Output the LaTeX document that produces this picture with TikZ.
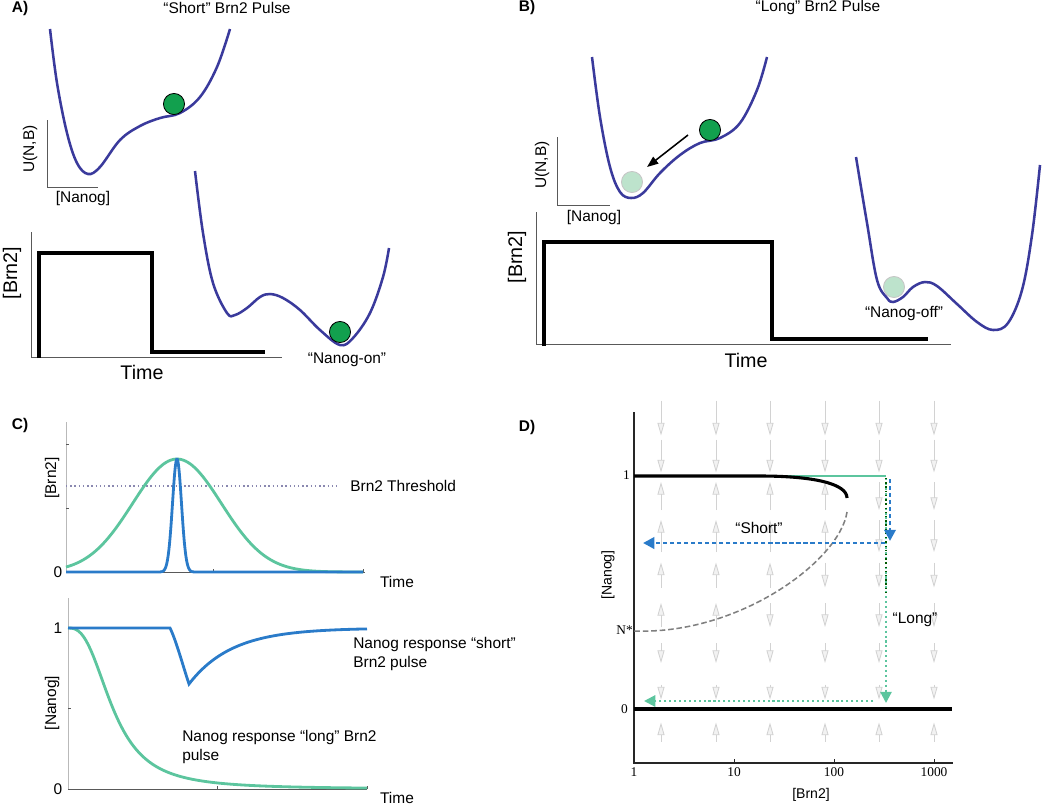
\documentclass[tikz,border=0pt]{standalone}
\usepackage{fontspec}
\setmainfont{Liberation Sans}
\newfontfamily\tickfont{Liberation Serif}
\usetikzlibrary{arrows.meta}
\definecolor{PotBlue}{HTML}{3A3A9C}
\definecolor{BallGreen}{HTML}{12A04E}
\definecolor{PaleBall}{HTML}{BDE3CC}
\definecolor{PulseGreen}{HTML}{5CC59E}
\definecolor{PulseBlue}{HTML}{2A7BC9}
\definecolor{ThreshGray}{HTML}{8A88B0}

\begin{document}
\begin{tikzpicture}[x=0.025cm, y=-0.025cm,
  txt/.style={font=\fontsize{11}{13.5}\selectfont, inner sep=0pt},
  bigtxt/.style={font=\fontsize{14}{16}\selectfont, inner sep=0pt},
  panel/.style={font=\fontsize{11}{13}\selectfont\bfseries, inner sep=0pt},
  ticklbl/.style={font=\tickfont\fontsize{9.5}{11}\selectfont, inner sep=0pt},
  pot/.style={PotBlue, line width=1.8pt},
  ball/.style={circle, draw=black, line width=0.6pt, fill=BallGreen, minimum size=15pt, inner sep=0pt},
  paleball/.style={ball, draw=gray!45, fill=PaleBall},
  pulse/.style={line width=2.5pt, line join=miter},
  axis/.style={gray!70!black, line width=0.6pt},
  field/.style={gray!35, line width=0.6pt, -{Triangle[length=9pt, width=5pt, fill=gray!10]}}]
  \useasboundingbox (0,0) rectangle (1050,805);

  % A) short pulse
  \node[panel] (labA) at (20,8) {A)};
  \node[txt] (titA) at (227,8) {“Short” Brn2 Pulse};
  \draw[pot] plot[smooth, tension=0.6] coordinates {(50,29) (57,83) (67,133) (77,163) (88,174) (100,167)
    (120,140) (140,126) (160,118) (180,113) (200,97) (217,67) (230,29)};
  \node[ball] (ballA) at (174,104) {};
  \draw[axis] (47,120) -- (47,187) -- (98,187);
  \node[txt, rotate=90] (potA) at (30,149) {U(N,B)};
  \node[txt] (nanA) at (83,198) {[Nanog]};
  \draw[axis] (31,232) -- (31,357) -- (282,357);
  \draw[pulse] (39,358) -- (39,253) -- (152,253) -- (152,352) -- (265,352);
  \node[bigtxt, rotate=90] (brnA) at (12,273) {[Brn2]};
  \node[bigtxt] (timeA) at (142,372) {Time};
  \draw[pot] plot[smooth, tension=0.6] coordinates {(195,171) (203,233) (213,283) (227,313) (235,315) (247,308)
    (260,297) (270,294) (283,298) (300,310) (320,330) (340,345) (353,338) (370,313) (383,277) (389,248)};
  \node[ball] (ballOn) at (340,332) {};
  \node[txt] (onLbl) at (347,360) {“Nanog-on”};

  % B) long pulse
  \node[panel] (labB) at (527,7) {B)};
  \node[txt] (titB) at (818,7) {“Long” Brn2 Pulse};
  \draw[pot] plot[smooth, tension=0.6] coordinates {(592,57) (600,117) (610,167) (620,192) (631,198) (643,193)
    (660,173) (680,155) (700,143) (720,138) (740,123) (757,90) (767,57)};
  \node[paleball] (paleB) at (632,182) {};
  \node[ball] (ballB) at (710,130) {};
  \coordinate (slideFrom) at (688,135);
  \coordinate (slideTo) at (647,167);
  \draw[line width=1.1pt, -{Triangle[length=8pt, width=6pt]}] (slideFrom) -- (slideTo);
  \draw[axis] (557,137) -- (557,205) -- (610,205);
  \node[txt, rotate=90] (potB) at (542,165) {U(N,B)};
  \node[txt] (nanB) at (594,217) {[Nanog]};
  \draw[axis] (536,212) -- (536,344) -- (951,344);
  \draw[pulse] (544,346) -- (544,242) -- (772,242) -- (772,339) -- (928,339);
  \node[bigtxt, rotate=90] (brnB) at (517,257) {[Brn2]};
  \node[bigtxt] (timeB) at (746,360) {Time};
  \draw[pot] plot[smooth, tension=0.6] coordinates {(856,157) (867,223) (877,280) (887,298) (893,302) (903,297)
    (913,287) (925,282) (937,286) (957,304) (977,322) (993,330) (1008,323) (1022,290) (1032,235) (1040,165)};
  \node[paleball] (ballOff) at (894,287) {};
  \node[txt] (offLbl) at (904,313) {“Nanog-off”};

  % C) pulses and responses
  \node[panel] (labC) at (20,425) {C)};
  \draw[axis, gray!55] (66,422) -- (66,572);
  \draw[axis] (66,572) -- (365,572);
  \foreach \ty in {444,508} \draw[axis] (66,\ty) -- (69,\ty);
  \foreach \tx in {213,363} \draw[axis] (\tx,572) -- (\tx,569);
  \node[txt, rotate=90] (brnC) at (52,478) {[Brn2]};
  \node[txt] (zeroC) at (58,572) {0};
  \node[txt] (timeC) at (397,582) {Time};
  \node[txt, anchor=west] (thrLbl) at (350,486) {Brn2 Threshold};
  \draw[ThreshGray, line width=1pt, dotted, shorten >=8.5pt] (66,486) -- (thrLbl.west);
  \draw[PulseGreen, line width=2pt] plot[domain=66:363, samples=120]
    (\x, {572-113*exp(-((\x-177)/62.8)*((\x-177)/62.8))});
  \draw[PulseBlue, line width=2pt] (66,572) -- (150,572) -- plot[domain=150:204, samples=90]
    (\x, {572-113*exp(-((\x-177)/6.36)*((\x-177)/6.36))}) -- (363,572);

  \draw[axis, gray!55] (68,598) -- (68,789);
  \draw[axis] (68,789) -- (367,789);
  \foreach \ty in {628,708} \draw[axis] (68,\ty) -- (71,\ty);
  \foreach \tx in {217,367} \draw[axis] (\tx,789) -- (\tx,786);
  \node[txt] (oneC) at (58,628) {1};
  \node[txt] (zeroC2) at (58,789) {0};
  \node[txt, rotate=90] (nanC) at (52,703) {[Nanog]};
  \node[txt] (timeC2) at (397,798) {Time};
  \draw[PulseGreen, line width=2pt] (68,628) -- plot[domain=68.5:367, samples=120]
    (\x, {789-161/(1+((\x-68)/45)^2.7)});
  \draw[PulseBlue, line width=2pt] (68,628) -- (170,628) .. controls (176,640) and (183,666) .. (189,684)
    -- plot[domain=189:367, samples=80] (\x, {628+56*exp(-(\x-189)/43)});
  \node[txt, anchor=west, align=left] (shortResp) at (353,654) {Nanog response “short”\\Brn2 pulse};
  \node[txt, anchor=west, align=left] (longResp) at (182,747) {Nanog response “long” Brn2\\pulse};

  % D) bifurcation diagram
  \node[panel] (labD) at (527,427) {D)};
  \foreach \cx/\dirs in {661/{1,1,-1,-1,-1,-1,1,1,-1}, 716/{1,1,-1,-1,-1,-1,1,1,-1},
      770/{1,1,-1,-1,-1,1,1,1,-1}, 825/{1,1,-1,-1,1,1,1,1,-1},
      879/{1,1,1,1,1,1,1,1,-1}, 934/{1,1,1,1,1,1,1,1,-1}}{
    \foreach \d [count=\i from 0] in \dirs {
      \pgfmathsetmacro{\ry}{{418,456,496,536,575,615,653,692,732}[\i]}
      \pgfmathsetmacro{\len}{{35,33,28,32,25,24,20,15,19}[\i]}
      \draw[field] (\cx,{\ry-(\d)*\len/2}) -- (\cx,{\ry+(\d)*\len/2});
    }
  }
  \draw[black!85, line width=0.8pt] (634,412) -- (634,763) -- (953,763);
  \foreach \tx/\tl in {634/1, 734/10, 834/100, 934/1000} {
    \draw[black!85, line width=0.6pt] (\tx,763) -- (\tx,759);
    \node[ticklbl] (bx\tl) at (\tx,772) {\tl};
  }
  \node[ticklbl, anchor=east] (nOne) at (630,475) {1};
  \node[ticklbl, anchor=east] (nStar) at (633,630) {N*};
  \node[ticklbl, anchor=east] (nZero) at (628,709) {0};
  \node[txt, font=\fontsize{10}{12}\selectfont, rotate=90] (nanD) at (608,575) {[Nanog]};
  \node[txt, font=\fontsize{10}{12}\selectfont] (brnD) at (811,795) {[Brn2]};
  \draw[black, line width=2.8pt] (634,709) -- (952,709);
  \draw[PulseGreen, line width=2pt] (634,476) -- (886,476);
  \draw[black, line width=2.2pt] (634,476) -- (760,476) .. controls (815,476) and (847,484) .. (847,498);
  \draw[gray, line width=1.1pt, dash pattern=on 4pt off 2pt] (847,512) .. controls (840,560) and (740,635) .. (634,631);
  \coordinate (sTop) at (890,479);
  \coordinate (sDrop) at (890,541);
  \coordinate (sRight) at (885,543);
  \coordinate (sLeft) at (643,543);
  \coordinate (lTop) at (886,478);
  \coordinate (lMid) at (886,593);
  \coordinate (lDrop) at (886,703);
  \coordinate (lRight) at (873,701);
  \coordinate (lLeft) at (644,701);
  \draw[PulseGreen, line width=1.5pt, dotted, -{Triangle[length=8pt, width=8pt]}] (lTop) -- (lDrop);
  \draw[green!35!black, line width=1pt, dotted] (lTop) -- (lMid);
  \draw[PulseGreen, line width=1.5pt, dotted, -{Triangle[length=8pt, width=8pt]}] (lRight) -- (lLeft);
  \draw[PulseBlue, line width=2pt, dash pattern=on 3pt off 2pt, -{Triangle[length=8pt, width=8pt]}] (sTop) -- (sDrop);
  \draw[PulseBlue, line width=2pt, dash pattern=on 3pt off 2pt, -{Triangle[length=8pt, width=8pt]}] (sRight) -- (sLeft);
  \node[txt] (shortLbl) at (759,528) {“Short”};
  \node[txt] (longLbl) at (915,620) {“Long”};
\end{tikzpicture}
\end{document}
